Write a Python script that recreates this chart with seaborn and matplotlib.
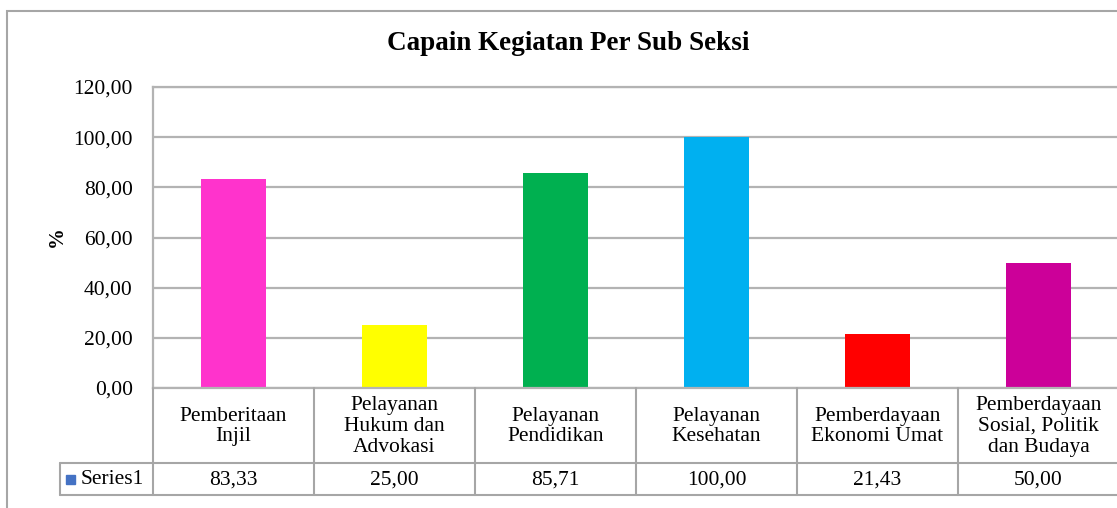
import matplotlib
matplotlib.use("Agg")
import matplotlib.pyplot as plt
import matplotlib.transforms as mtransforms
from matplotlib.lines import Line2D
from matplotlib.patches import Rectangle
import seaborn as sns
import pandas as pd

categories = ["Pemberitaan\nInjil", "Pelayanan\nHukum dan\nAdvokasi", "Pelayanan\nPendidikan",
              "Pelayanan\nKesehatan", "Pemberdayaan\nEkonomi Umat",
              "Pemberdayaan\nSosial, Politik\ndan Budaya"]
values = [83.33, 25.00, 85.71, 100.00, 21.43, 50.00]
colors = ["#FF33CC", "#FFFF00", "#00B050", "#00B0F0", "#FF0000", "#CC0099"]
yticks = [0, 20, 40, 60, 80, 100, 120]
series_name = "Series1"
title = "Capain Kegiatan Per Sub Seksi"

sns.set_theme(style="white")
plt.rcParams["font.family"] = ["Liberation Serif", "DejaVu Serif"]
plt.rcParams["text.color"] = "black"
plt.rcParams["ytick.color"] = "black"
plt.rcParams["axes.labelcolor"] = "black"

W, H = 1117, 508
fig = plt.figure(figsize=(W / 100, H / 100), dpi=100)
fig.patch.set_facecolor("white")

def fx(px):
    return px / W

def fy(py):
    return 1 - py / H

FS = 15.5
x0, x1, ytop, ybot = 153, 1119, 87, 388
ax = fig.add_axes([fx(x0), fy(ybot), fx(x1) - fx(x0), fy(ytop) - fy(ybot)])

df = pd.DataFrame({"cat": categories, "val": values})
sns.barplot(data=df, x="cat", y="val", hue="cat", palette=colors, legend=False,
            width=0.4, ax=ax, saturation=1, linewidth=0)

grid_c = "#b3b3b3"
ax.set_ylim(0, 120)
ax.set_xlim(-0.5, len(categories) - 0.5)
ax.set_yticks(yticks)
ax.set_yticklabels([f"{v:.2f}".replace(".", ",") for v in yticks], fontsize=FS,
                   color="black")
ax.yaxis.grid(True, color=grid_c, linewidth=1.6)
ax.set_axisbelow(True)
ax.set_xticks([])
ax.set_xlabel("")
ax.set_ylabel("")
ax.tick_params(axis="y", length=0, pad=14.5)
for s in ["left", "top", "right", "bottom"]:
    ax.spines[s].set_color(grid_c)
    ax.spines[s].set_linewidth(1.6)

# outer chart border
fig.add_artist(Rectangle((fx(7), fy(520)), fx(1130) - fx(7), fy(11) - fy(520),
                         transform=fig.transFigure, fill=False, edgecolor="#a6a6a6",
                         linewidth=1.5))

fig.text(fx(568), fy(44), title, ha="center", va="center", fontsize=19.5,
         fontweight="bold", color="black")
fig.text(fx(57), fy(237), "%", ha="center", va="center", fontsize=15,
         fontweight="bold", rotation=90, color="black")

# data table
tr = mtransforms.blended_transform_factory(ax.transData, fig.transFigure)
row1, row2 = 463, 495
n = len(categories)
lc = "#a6a6a6"
for i in range(n + 1):
    fig.add_artist(Line2D([i - 0.5, i - 0.5], [fy(ybot), fy(row2)], transform=tr,
                          color=lc, linewidth=1.5))
fig.add_artist(Line2D([fx(60), fx(1125)], [fy(row1), fy(row1)], transform=fig.transFigure,
                      color=lc, linewidth=1.5))
fig.add_artist(Line2D([fx(60), fx(1125)], [fy(row2), fy(row2)], transform=fig.transFigure,
                      color=lc, linewidth=1.5))
fig.add_artist(Line2D([fx(60), fx(60)], [fy(row1), fy(row2)], transform=fig.transFigure,
                      color=lc, linewidth=1.5))

for i, (c, v) in enumerate(zip(categories, values)):
    fig.text(i, fy((ybot + row1) / 2 + 1), c, transform=tr, ha="center", va="center",
             fontsize=FS, linespacing=1.12, color="black")
    fig.text(i, fy((row1 + row2) / 2 + 1), f"{v:.2f}".replace(".", ","), transform=tr,
             ha="center", va="center", fontsize=FS, color="black")

fig.add_artist(Rectangle((fx(66), fy(484)), fx(9), fy(475) - fy(484),
                         transform=fig.transFigure, color="#4472C4"))
fig.text(fx(81), fy(480), series_name, ha="left", va="center", fontsize=FS,
         color="black")

fig.savefig("out.png", dpi=100, facecolor="white")
